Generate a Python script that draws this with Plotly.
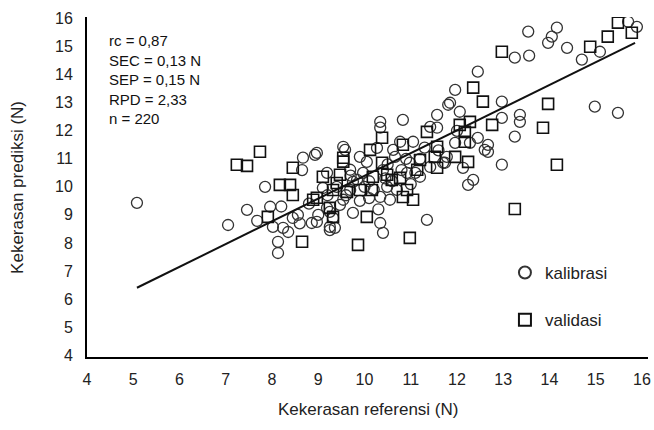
import plotly.graph_objects as go

# kalibrasi (circles)
kal_x = [5.08, 7.05, 7.46, 7.68, 7.85, 7.96, 8.02, 8.13, 8.13, 8.24, 8.35, 8.45, 8.56, 8.67, 8.65,
         8.97, 8.86, 8.97, 9.25, 9.36, 9.19, 9.25, 9.47, 9.54, 9.75, 9.54, 9.19, 9.10, 9.69, 9.75,
         9.58, 9.32, 9.25, 10.34, 10.40, 11.35, 9.97, 9.84, 9.69, 10.49, 10.70, 10.55, 10.34, 10.92,
         11.20, 10.05, 9.90, 10.62, 10.98, 11.42, 11.70, 10.27, 10.77, 11.05, 10.66, 11.78, 10.34,
         10.34, 10.83, 11.57, 11.42, 11.81, 11.96, 11.85, 12.06, 12.45, 12.97, 11.57, 11.96, 12.45,
         12.67, 12.67, 12.28, 12.60, 11.74, 12.13, 12.35, 12.24, 12.97, 13.36, 13.36, 13.25, 12.97,
         13.54, 14.16, 14.05, 13.97, 14.38, 13.25, 13.56, 14.70, 15.09, 15.70, 15.89, 14.98, 15.48,
         9.40, 9.60, 10.10, 10.20, 10.40, 10.50, 10.60, 10.80, 10.90, 11.10, 11.00, 9.90, 10.10,
         10.30, 9.20, 8.80, 9.00, 9.70, 10.00, 10.45, 11.30, 11.60, 12.00, 11.20, 8.93, 8.20, 8.60]
kal_y = [9.43, 8.64, 9.18, 8.79, 10.00, 9.29, 8.57, 8.04, 7.64, 8.54, 8.39, 8.89, 9.00, 11.04, 10.60,
         11.21, 8.71, 8.75, 8.46, 8.54, 9.25, 9.11, 9.36, 9.54, 9.07, 11.43, 10.50, 9.96, 10.61, 10.18,
         11.32, 8.89, 8.57, 8.71, 8.36, 8.82, 10.50, 10.25, 9.89, 10.00, 9.89, 9.54, 9.64, 10.50,
         10.36, 10.89, 11.07, 11.32, 10.86, 10.71, 10.86, 11.39, 11.61, 11.61, 11.07, 11.07, 12.32,
         12.11, 12.39, 12.57, 12.14, 12.93, 13.46, 13.00, 12.68, 14.11, 13.04, 12.11, 11.57, 11.75,
         11.50, 11.25, 11.57, 11.32, 10.86, 10.68, 10.25, 10.07, 10.79, 12.57, 12.32, 11.79, 12.46,
         15.54, 15.68, 15.36, 15.14, 14.96, 14.61, 14.68, 14.54, 14.82, 15.89, 15.71, 12.86, 12.64,
         10.00, 9.70, 10.20, 9.90, 10.60, 10.80, 10.20, 10.60, 11.00, 10.50, 10.10, 9.50, 9.60,
         9.20, 9.70, 9.40, 9.00, 10.40, 10.00, 10.30, 11.40, 11.30, 12.00, 11.00, 11.14, 9.30, 8.70]

# validasi (squares)
val_x = [7.24, 7.46, 7.74, 7.91, 8.17, 8.39, 8.45, 8.45, 8.65, 8.89, 8.97, 9.10, 9.32, 9.54, 9.47,
         9.40, 9.32, 9.25, 9.62, 9.86, 10.05, 10.98, 9.90, 10.16, 10.18, 10.49, 10.59, 10.77, 10.92,
         11.05, 10.83, 11.14, 10.12, 10.38, 10.38, 10.83, 11.20, 11.35, 11.57, 11.52, 11.57, 11.96,
         12.24, 12.06, 12.28, 12.17, 12.17, 12.76, 12.35, 12.56, 12.97, 13.97, 13.86, 14.16, 13.25,
         14.88, 15.26, 15.48, 15.78, 9.54]
val_y = [10.79, 10.75, 11.25, 8.93, 10.07, 10.07, 10.68, 9.71, 8.04, 9.54, 9.61, 10.36, 8.93, 11.04,
         10.43, 10.14, 9.89, 9.25, 9.82, 7.93, 8.93, 8.18, 9.89, 9.89, 10.36, 10.43, 10.25, 10.32,
         9.89, 9.54, 9.64, 10.61, 11.32, 11.75, 10.86, 11.50, 10.96, 11.96, 11.43, 11.07, 10.68,
         11.07, 10.89, 12.21, 12.32, 11.96, 11.61, 12.21, 13.54, 13.04, 14.82, 12.96, 12.11, 10.79,
         9.21, 15.00, 15.36, 15.86, 15.50, 10.90]

# regression line
line_x = [5.08, 15.85]
line_y = [6.40, 15.14]

x_ticks = list(range(4, 17))
y_ticks = list(range(4, 17))

stats_lines = ["rc = 0,87", "SEC = 0,13 N", "SEP = 0,15 N", "RPD = 2,33", "n = 220"]
x_title = "Kekerasan referensi (N)"
y_title = "Kekerasan prediksi (N)"

font_family = "Liberation Sans, Arial, sans-serif"

fig = go.Figure()
fig.add_trace(go.Scatter(
    x=kal_x, y=kal_y, mode="markers", name="kalibrasi", legendgroup="a",
    marker=dict(symbol="circle-open", size=11, color="#333333", line=dict(width=1.3, color="#333333"))))
fig.add_trace(go.Scatter(
    x=val_x, y=val_y, mode="markers", name="validasi", legendgroup="b",
    marker=dict(symbol="square-open", size=11, color="#111111", line=dict(width=1.6, color="#111111"))))
fig.add_trace(go.Scatter(
    x=line_x, y=line_y, mode="lines", showlegend=False,
    line=dict(color="#111111", width=2)))

fig.add_annotation(
    xref="paper", yref="paper", x=0.036, y=0.962, xanchor="left", yanchor="top",
    text="<br>".join(stats_lines), showarrow=False, align="left",
    font=dict(family=font_family, size=15, color="#111111"))

# axis titles
fig.add_annotation(
    xref="paper", yref="paper", x=0.5, y=-0.155, xanchor="center", yanchor="middle",
    text=x_title, showarrow=False,
    font=dict(family=font_family, size=17, color="#222222"))
fig.add_annotation(
    xref="paper", yref="paper", x=-0.125, y=0.5, xanchor="center", yanchor="middle",
    text=y_title, showarrow=False, textangle=-90,
    font=dict(family=font_family, size=17, color="#222222"))

fig.update_layout(
    width=654, height=430,
    margin=dict(l=87, r=6, t=17, b=73, autoexpand=False),
    plot_bgcolor="white", paper_bgcolor="white",
    font=dict(family=font_family, size=15, color="#222222"),
    showlegend=True,
    legend=dict(x=0.745, y=0.30, xanchor="left", yanchor="top",
                bgcolor="rgba(0,0,0,0)", tracegroupgap=22, traceorder="grouped",
                itemsizing="constant", itemwidth=30,
                font=dict(family=font_family, size=17, color="#222222")),
    xaxis=dict(range=[4, 16.13], tickvals=x_ticks, showgrid=False, zeroline=False,
               showline=True, linecolor="black", linewidth=2, ticks="",
               automargin=False, ticklabelstandoff=7,
               tickfont=dict(size=16)),
    yaxis=dict(range=[3.93, 16.06], tickvals=y_ticks, showgrid=False, zeroline=False,
               showline=True, linecolor="black", linewidth=2, ticks="",
               automargin=False, ticklabelstandoff=9,
               tickfont=dict(size=16)),
)

fig.write_html("out.html")
